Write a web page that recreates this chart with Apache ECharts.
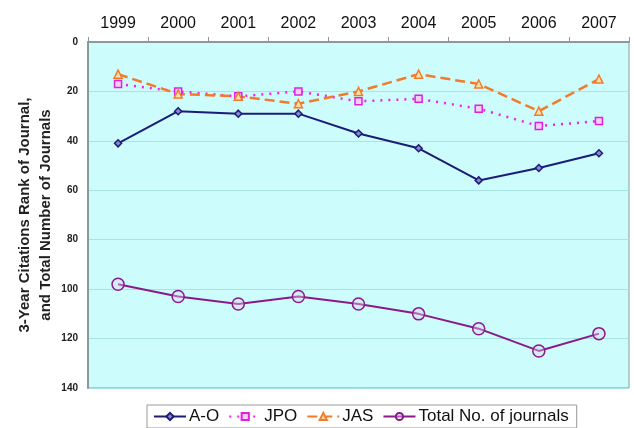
<!DOCTYPE html>
<html>
<head>
<meta charset="utf-8">
<script src="https://cdn.jsdelivr.net/npm/echarts@6/dist/echarts.min.js"></script>
<style>
html,body{margin:0;padding:0;background:#fff;}
#chart{width:634px;height:428px;}
</style>
</head>
<body>
<div id="chart"></div>
<script>
// Publication years along the top axis
const years = ['1999','2000','2001','2002','2003','2004','2005','2006','2007'];
// Citation rank of each journal per year (lower = better, axis inverted)
const rankAO  = [41, 28, 29, 29, 37, 43, 56, 51, 45];
const rankJPO = [17, 20, 22, 20, 24, 23, 27, 34, 32];
const rankJAS = [13, 21, 22, 25, 20, 13, 17, 28, 15];
// Total number of journals in the category
const totalJournals = [98, 103, 106, 103, 106, 110, 116, 125, 118];

const chart = echarts.init(document.getElementById('chart'));
const font = 'Arial, "Liberation Sans", sans-serif';

chart.setOption({
  backgroundColor: '#ffffff',
  animation: false,
  textStyle: { fontFamily: font },
  grid: {
    left: 88, right: 5, top: 42, bottom: 40,
    outerBoundsMode: 'none',
    containLabel: false,
    show: true, backgroundColor: '#ccfcfc', borderColor: '#8a9a9a', borderWidth: 1
  },
  xAxis: {
    type: 'category',
    position: 'top',
    data: years,
    boundaryGap: true,
    axisLine: { show: true, lineStyle: { color: '#8a9a9a', width: 2 } },
    axisTick: { show: true, inside: false, length: 5, lineStyle: { color: '#8a9a9a' } },
    axisLabel: { color: '#111', fontSize: 16, margin: 10, fontFamily: font },
    splitLine: { show: false }
  },
  yAxis: {
    type: 'value',
    inverse: true,
    min: 0, max: 140, interval: 20,
    name: '3-Year Citations Rank of Journal,\nand Total Number of Journals',
    nameLocation: 'middle',
    nameGap: 32,
    nameMoveOverlap: false,
    nameRotate: 90,
    nameTextStyle: { fontSize: 15, fontWeight: 'bold', color: '#222', lineHeight: 21, fontFamily: font },
    axisLine: { show: true, lineStyle: { color: '#8a9a9a', width: 2 } },
    axisTick: { show: false },
    axisLabel: { color: '#222', fontSize: 10, fontWeight: 'bold', margin: 10, fontFamily: font },
    splitLine: { show: true, lineStyle: { color: '#a8e4e4', width: 1 } }
  },
  legend: {
    bottom: 0,
    left: 147,
    itemGap: 9,
    itemWidth: 32,
    itemHeight: 9,
    padding: [3, 8, 3, 6],
    borderColor: '#999',
    borderWidth: 1,
    backgroundColor: '#fff',
    textStyle: { fontSize: 17, color: '#111', fontFamily: font, padding: [0, 0, 0, -2] },
    data: ['A-O', 'JPO', 'JAS', 'Total No. of journals']
  },
  series: [
    {
      name: 'A-O', type: 'line', data: rankAO,
      symbol: 'diamond', symbolSize: 7,
      lineStyle: { color: '#1c1c78', width: 2 },
      itemStyle: { color: '#8a8ac8', borderColor: '#1c1c78', borderWidth: 1.5 }
    },
    {
      name: 'JPO', type: 'line', data: rankJPO,
      symbol: 'rect', symbolSize: 7,
      lineStyle: { color: '#ee22ee', width: 2.5, type: [2, 6] },
      itemStyle: { color: '#f4d0f4', borderColor: '#e020e0', borderWidth: 1.5 }
    },
    {
      name: 'JAS', type: 'line', data: rankJAS,
      symbol: 'triangle', symbolSize: 8,
      lineStyle: { color: '#f27b2a', width: 2.5, type: [10, 5] },
      itemStyle: { color: '#fce0b0', borderColor: '#f27b2a', borderWidth: 1.5 }
    },
    {
      name: 'Total No. of journals', type: 'line', data: totalJournals,
      symbol: 'circle', symbolSize: 12,
      lineStyle: { color: '#8a1a8a', width: 2 },
      itemStyle: { color: 'rgba(230,210,240,0.4)', borderColor: '#8a1a8a', borderWidth: 1.5 }
    }
  ]
});
</script>
</body>
</html>
